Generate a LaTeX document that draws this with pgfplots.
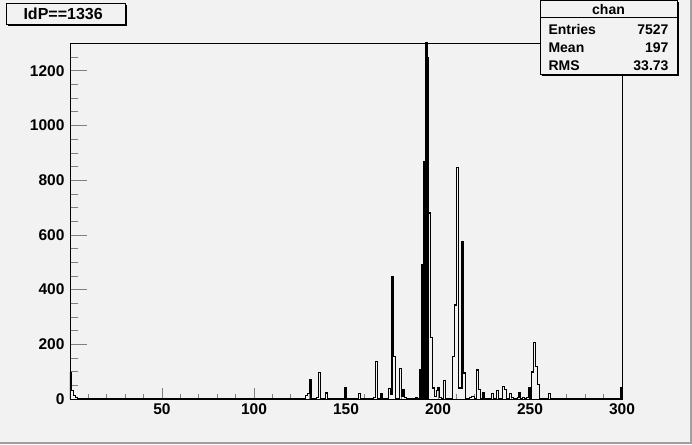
\documentclass[border=0pt]{standalone}
\usepackage{pgfplots}
\pgfplotsset{compat=1.18}
\usepackage{fontspec}
\setmainfont{Liberation Sans}
\definecolor{bg}{RGB}{242,242,242}
\definecolor{bevel}{RGB}{160,160,160}
\begin{document}
\begin{tikzpicture}[x=1pt,y=1pt]
\useasboundingbox (0,0) rectangle (692,444);
\fill[bg] (0,0) rectangle (692,444);
\fill[bevel] (0,0) rectangle (692,2.5);
\fill[bevel] (689.5,0) rectangle (692,444);
\begin{axis}[
  at={(70pt,45pt)}, anchor=south west,
  width=552pt, height=356pt, scale only axis,
  xmin=0, xmax=300, ymin=0, ymax=1302,
  axis background/.style={fill=bg},
  axis line style={line width=0.9pt},
  tick pos=left, tick align=inside,
  xtick={0,50,100,150,200,250,300},
  xticklabels={,50,100,150,200,250,300},
  minor xtick={10,20,...,290},
  ytick={0,200,...,1200},
  minor ytick={50,100,...,1250},
  xtick style={line width=0.8pt,/pgfplots/major tick length=10.7pt,/pgfplots/minor tick length=5.3pt},
  ytick style={line width=0.8pt,/pgfplots/major tick length=16.5pt,/pgfplots/minor tick length=8.3pt},
  /pgf/number format/assume math mode=true,
  /pgf/number format/1000 sep={},
  ticklabel style={font=\fontsize{15.5}{15.5}\selectfont\bfseries},
  xticklabel style={yshift=-1.5pt},
  yticklabel style={xshift=-2pt},
]
% dense core of the main peak (appears solid black in the reference)
\addplot[fill=black, draw=black, line width=0.5pt, forget plot] coordinates {
(190.3,0)(190.3,107)(191,107)(191,490)(192,490)(192,870)(193,870)(193,1350)(194,1350)(194,1250)(194.7,1250)(194.7,0)(190.3,0)
};
\addplot[const plot, black, line width=1.15pt] coordinates {
(0,0)(0,95)(1,30)(2,12)(3,5)(4,0)
(126,2)(127,2)(128,12)(129,20)(130,72)(131,3)(132,0)
(134,4)(135,97)(136,0)
(139,22)(140,0)
(149,42)(150,0)
(152,1)(153,2)(154,2)(155,0)
(157,20)(158,0)
(165,4)(166,137)(167,0)
(169,20)(170,0)
(173,39)(174,16)(175,447)(176,155)(177,2)(178,2)(179,113)(180,8)(181,33)(182,5)(183,0)
(186,3)(187,2)(188,6)(189,3)(190,107)(191,490)(192,870)(193,1350)(194,1250)(195,680)(196,225)(197,40)(198,10)(199,30)(200,40)(201,7)(202,0)
(203,69)(204,0)
(208,155)(209,344)(210,847)(211,40)(212,38)(213,575)(214,95)(215,0)
(217,7)(218,9)(219,10)(220,0)(221,106)(222,34)(223,2)(224,22)(225,0)
(229,19)(230,0)
(232,30)(233,0)
(235,47)(236,36)(237,0)
(239,19)(240,7)(241,0)
(243,7)(244,24)(245,0)(246,7)(247,0)(248,7)(249,40)(250,0)
(251,99)(252,206)(253,120)(254,52)(255,0)
(260,19)(261,0)
(299,40)(300,0)
};
\end{axis}
% title box
\fill[black] (8,444-26) rectangle (127,444-5);
\filldraw[fill=bg, draw=black, line width=0.8pt] (6,444-24) rectangle (125,444-3);
\node[anchor=west, font=\fontsize{16}{16}\selectfont\bfseries] at (20,444-13.5) {IdP==1336};
% stats box
\fill[black] (542,444-76) rectangle (679,444-2);
\filldraw[fill=bg, draw=black, line width=0.8pt] (540,444-74) rectangle (677,444-0.5);
\draw[black, line width=0.8pt] (540,444-17) -- (677,444-17);
\node[font=\fontsize{14}{14}\selectfont\bfseries] at (608.5,444-9.5) {chan};
\node[anchor=west, font=\fontsize{14}{14}\selectfont\bfseries] at (545,444-29.5) {Entries};
\node[anchor=east, font=\fontsize{14}{14}\selectfont\bfseries] at (672,444-29.5) {7527};
\node[anchor=west, font=\fontsize{14}{14}\selectfont\bfseries] at (545,444-48) {Mean};
\node[anchor=east, font=\fontsize{14}{14}\selectfont\bfseries] at (672,444-48) {197};
\node[anchor=west, font=\fontsize{14}{14}\selectfont\bfseries] at (545,444-66) {RMS};
\node[anchor=east, font=\fontsize{14}{14}\selectfont\bfseries] at (672,444-66) {33.73};
\end{tikzpicture}
\end{document}
